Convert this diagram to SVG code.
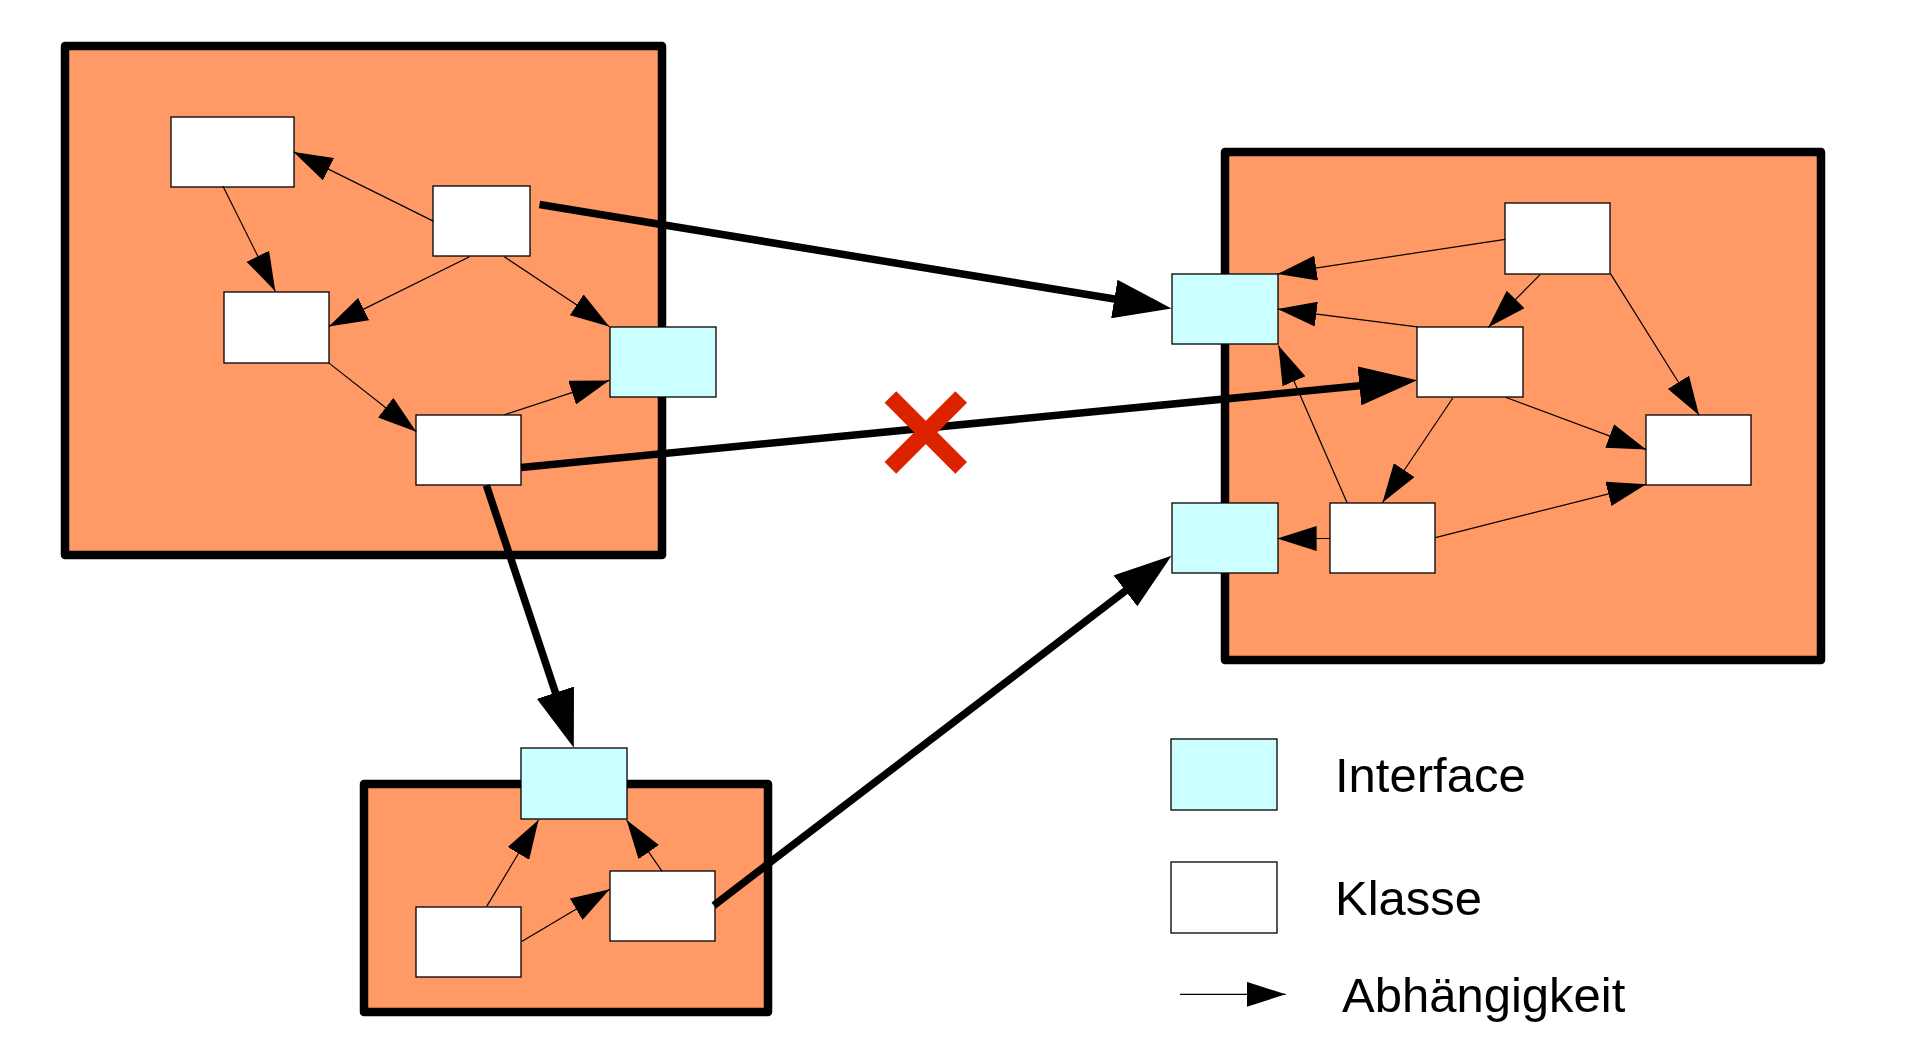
<svg xmlns="http://www.w3.org/2000/svg" width="1906" height="1050" viewBox="0 0 1906 1050">
<style>
.frame{fill:#ff9966;stroke:#000;stroke-width:8.5;stroke-linejoin:round}
.cls{fill:#fff;stroke:#000;stroke-width:1.3}
.ifc{fill:#ccffff;stroke:#000;stroke-width:1.3}
.thin{fill:none;stroke:#000;stroke-width:1.2;marker-end:url(#ah)}
.thick{fill:none;stroke:#000;stroke-width:7.5;marker-end:url(#ahb)}
.lbl{font-family:"Liberation Sans",Arial,sans-serif;font-size:49px;fill:#000}
.cross{stroke:#dc2300;stroke-width:16.5;stroke-linecap:butt}
</style>
<defs>
<marker id="ah" markerUnits="userSpaceOnUse" viewBox="0 0 39 25" markerWidth="39" markerHeight="25" refX="39" refY="12.5" orient="auto">
<path d="M0,0 L39,12.5 L0,25 Z" fill="#000"/>
</marker>
<marker id="ahb" markerUnits="userSpaceOnUse" viewBox="0 0 58 39" markerWidth="58" markerHeight="39" refX="8" refY="19.5" orient="auto">
<path d="M0,0 L58,19.5 L0,39 Z" fill="#000"/>
</marker>
</defs>
<rect width="1906" height="1050" fill="#fff"/>
<g id="package-left"><rect class="frame" x="65" y="46" width="597" height="509"/></g>
<g id="package-right"><rect class="frame" x="1225" y="152" width="596" height="508"/></g>
<g id="package-bottom"><rect class="frame" x="364" y="784" width="404" height="228"/></g>

<g id="left-a"><rect class="cls" x="171" y="117" width="123" height="70"/></g>
<g id="left-b"><rect class="cls" x="433" y="186" width="97" height="70"/></g>
<g id="left-c"><rect class="cls" x="224" y="292" width="105" height="71"/></g>
<g id="left-if"><rect class="ifc" x="610" y="327" width="106" height="70"/></g>
<g id="left-e"><rect class="cls" x="416" y="415" width="105" height="70"/></g>

<g id="right-r1"><rect class="cls" x="1505" y="203" width="105" height="71"/></g>
<g id="right-if1"><rect class="ifc" x="1172" y="274" width="106" height="70"/></g>
<g id="right-r2"><rect class="cls" x="1417" y="327" width="106" height="70"/></g>
<g id="right-r3"><rect class="cls" x="1646" y="415" width="105" height="70"/></g>
<g id="right-r4"><rect class="cls" x="1330" y="503" width="105" height="70"/></g>
<g id="right-if2"><rect class="ifc" x="1172" y="503" width="106" height="70"/></g>

<g id="bottom-if"><rect class="ifc" x="521" y="748" width="106" height="71"/></g>
<g id="bottom-l"><rect class="cls" x="416" y="907" width="105" height="70"/></g>
<g id="bottom-r"><rect class="cls" x="610" y="871" width="105" height="70"/></g>

<g id="connectors">
<line class="thin" x1="433.3" y1="221.1" x2="293.6" y2="151.9"/>
<line class="thin" x1="223" y1="186.3" x2="275.3" y2="291.2"/>
<line class="thin" x1="469.5" y1="256.8" x2="328.8" y2="326.4"/>
<line class="thin" x1="504.3" y1="256.8" x2="609.2" y2="326.4"/>
<line class="thin" x1="328.4" y1="362.6" x2="416.3" y2="431.8"/>
<line class="thin" x1="504.3" y1="414.8" x2="609.2" y2="380.4"/>

<line class="thin" x1="1505.2" y1="239.3" x2="1277.6" y2="273.9"/>
<line class="thin" x1="1417.2" y1="326.9" x2="1277.6" y2="309.1"/>
<line class="thin" x1="1539.9" y1="274.8" x2="1488.3" y2="327.3"/>
<line class="thin" x1="1610.6" y1="273.9" x2="1699.1" y2="415.3"/>
<line class="thin" x1="1506.1" y1="397.5" x2="1646.2" y2="449.6"/>
<line class="thin" x1="1452.8" y1="398" x2="1382.5" y2="502.5"/>
<line class="thin" x1="1347" y1="502.5" x2="1278.4" y2="345.5"/>
<line class="thin" x1="1329.6" y1="538.5" x2="1277.6" y2="538.5"/>
<line class="thin" x1="1435.4" y1="537.6" x2="1646.2" y2="484.3"/>

<line class="thin" x1="486.9" y1="906.1" x2="538.5" y2="820"/>
<line class="thin" x1="662.1" y1="871.3" x2="626.6" y2="820"/>
<line class="thin" x1="521.3" y1="941.7" x2="609.7" y2="889.3"/>

<line class="thick" x1="539.5" y1="204.5" x2="1122.2" y2="300.3"/>
<line class="thick" x1="521" y1="467.5" x2="1367.4" y2="385.1"/>
<line class="thick" x1="486.4" y1="485.4" x2="558.0" y2="700.3"/>
<line class="thick" x1="713.8" y1="905.4" x2="1131.8" y2="586.0"/>
</g>

<g id="forbidden">
<line class="cross" x1="890.4" y1="397" x2="961.2" y2="467.8"/>
<line class="cross" x1="961.2" y1="397" x2="890.4" y2="467.8"/>
</g>

<g id="legend">
<rect class="ifc" x="1171" y="739" width="106" height="71"/>
<text class="lbl" x="1335" y="792">Interface</text>
<rect class="cls" x="1171" y="862" width="106" height="71"/>
<text class="lbl" x="1335" y="915">Klasse</text>
<line class="thin" x1="1180" y1="994.3" x2="1285.7" y2="994.3"/>
<text class="lbl" x="1342" y="1012">Abhängigkeit</text>
</g>
</svg>
